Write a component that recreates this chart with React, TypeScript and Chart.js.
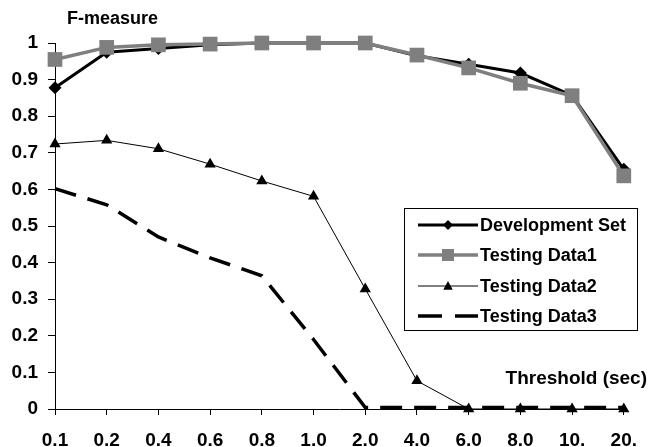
import { useEffect, useRef } from 'react';
import { Chart, registerables } from 'chart.js';

Chart.register(...registerables);

// Threshold values on the category axis
const thresholds = ['0.1', '0.2', '0.4', '0.6', '0.8', '1.0', '2.0', '4.0', '6.0', '8.0', '10.', '20.'];

// F-measure per threshold for each data set
const developmentSet = [0.878, 0.975, 0.985, 0.995, 1.0, 1.0, 1.0, 0.965, 0.942, 0.918, 0.857, 0.655];
const testingData1 = [0.955, 0.988, 0.995, 0.997, 1.0, 1.0, 1.0, 0.967, 0.932, 0.89, 0.856, 0.637];
const testingData2 = [0.724, 0.734, 0.711, 0.669, 0.623, 0.581, 0.328, 0.077, 0.0, 0.0, 0.0, 0.0];
const testingData3 = [0.602, 0.558, 0.47, 0.413, 0.364, 0.19, 0.004, 0.004, 0.004, 0.004, 0.004, 0.004];

const seriesNames = ['Development Set', 'Testing Data1', 'Testing Data2', 'Testing Data3'];

const FONT = '"Liberation Sans", Arial, Helvetica, sans-serif';
const GRAY = '#7f7f7f';

type LegendStyle = {
  color: string;
  width: number;
  dash: number[];
  marker: 'diamond' | 'square' | 'triangle' | 'none';
  markerSize: number;
};

const legendStyles: LegendStyle[] = [
  { color: '#000', width: 3, dash: [], marker: 'diamond', markerSize: 5 },
  { color: GRAY, width: 3.5, dash: [], marker: 'square', markerSize: 6 },
  { color: '#000', width: 1, dash: [], marker: 'triangle', markerSize: 5 },
  { color: '#000', width: 3.5, dash: [24, 13], marker: 'none', markerSize: 0 },
];

function drawMarker(ctx: CanvasRenderingContext2D, kind: string, x: number, y: number, r: number, color: string) {
  ctx.beginPath();
  ctx.fillStyle = color;
  if (kind === 'diamond') {
    ctx.moveTo(x, y - r);
    ctx.lineTo(x + r, y);
    ctx.lineTo(x, y + r);
    ctx.lineTo(x - r, y);
  } else if (kind === 'square') {
    ctx.rect(x - r, y - r, 2 * r, 2 * r);
  } else if (kind === 'triangle') {
    ctx.moveTo(x, y - r);
    ctx.lineTo(x + r * 0.95, y + r * 0.75);
    ctx.lineTo(x - r * 0.95, y + r * 0.75);
  } else {
    return;
  }
  ctx.closePath();
  ctx.fill();
}

const annotationPlugin = {
  id: 'annotations',
  afterDraw(chart: any) {
    const ctx: CanvasRenderingContext2D = chart.ctx;
    ctx.save();
    ctx.fillStyle = '#000';
    ctx.textBaseline = 'middle';
    ctx.textAlign = 'left';
    ctx.font = `bold 18px ${FONT}`;
    ctx.fillText('F-measure', 67, 19);
    ctx.textAlign = 'right';
    ctx.font = `bold 19px ${FONT}`;
    ctx.fillText('Threshold (sec)', 647, 379);

    // legend box
    const bx = 404.5, by = 208.5, bw = 233, bh = 122;
    ctx.fillStyle = '#fff';
    ctx.fillRect(bx, by, bw, bh);
    ctx.strokeStyle = '#000';
    ctx.lineWidth = 1;
    ctx.setLineDash([]);
    ctx.strokeRect(bx, by, bw, bh);

    const rowY = [225, 255, 286, 316];
    ctx.font = `bold 18px ${FONT}`;
    ctx.textAlign = 'left';
    seriesNames.forEach((name, i) => {
      const s = legendStyles[i];
      const y = rowY[i];
      ctx.beginPath();
      ctx.strokeStyle = s.color;
      ctx.lineWidth = s.width;
      ctx.setLineDash(s.dash);
      ctx.moveTo(418, y);
      ctx.lineTo(478, y);
      ctx.stroke();
      ctx.setLineDash([]);
      drawMarker(ctx, s.marker, 448, y, s.markerSize, s.color === GRAY ? GRAY : '#000');
      ctx.fillStyle = '#000';
      ctx.fillText(name, 480, y + 1);
    });
    ctx.restore();
  },
};

export default function App() {
  const canvasRef = useRef<HTMLCanvasElement | null>(null);

  useEffect(() => {
    document.body.style.margin = '0';
    const canvas = canvasRef.current;
    if (!canvas) return;

    const chart = new Chart(canvas, {
      type: 'line',
      data: {
        labels: thresholds,
        datasets: [
          {
            label: seriesNames[0],
            data: developmentSet,
            borderColor: '#000',
            backgroundColor: '#000',
            borderWidth: 3,
            pointStyle: 'rectRot',
            pointRadius: 6.5,
            pointBorderWidth: 0,
            order: 2,
            clip: false,
          },
          {
            label: seriesNames[1],
            data: testingData1,
            borderColor: GRAY,
            backgroundColor: GRAY,
            borderWidth: 3.5,
            pointStyle: 'rect',
            pointRadius: 10.4,
            pointBorderWidth: 0,
            order: 1,
            clip: false,
          },
          {
            label: seriesNames[2],
            data: testingData2,
            borderColor: '#000',
            backgroundColor: '#000',
            borderWidth: 1,
            pointStyle: 'triangle',
            pointRadius: 6.5,
            pointBorderWidth: 0,
            order: 3,
            clip: false,
          },
          {
            label: seriesNames[3],
            data: testingData3,
            borderColor: '#000',
            backgroundColor: '#000',
            borderWidth: 3.5,
            borderDash: [22, 12],
            pointRadius: 0,
            order: 4,
            clip: false,
          },
        ],
      },
      options: {
        responsive: false,
        animation: false,
        layout: { padding: { top: 43, right: 15, left: 0, bottom: 0 } },
        plugins: {
          legend: { display: false },
          tooltip: { enabled: false },
        },
        elements: { line: { tension: 0 } },
        scales: {
          x: {
            offset: false,
            afterFit: (scale: any) => {
              scale.height = 38;
            },
            grid: {
              display: true,
              drawOnChartArea: false,
              drawTicks: true,
              tickLength: 6,
              color: '#000',
            },
            border: { display: true, color: '#000', width: 1 },
            ticks: {
              color: '#000',
              font: { family: FONT, size: 19, weight: 'bold' },
              padding: 14,
              maxRotation: 0,
              autoSkip: false,
            },
          },
          y: {
            min: 0,
            max: 1,
            afterFit: (scale: any) => {
              scale.width = 55;
            },
            grid: {
              display: true,
              drawOnChartArea: false,
              drawTicks: true,
              tickLength: 7,
              color: '#000',
            },
            border: { display: true, color: '#000', width: 1 },
            ticks: {
              stepSize: 0.1,
              color: '#000',
              padding: 10,
              font: { family: FONT, size: 19, weight: 'bold' },
              callback: (v: any) => {
                const n = Number(v);
                if (Math.abs(n) < 1e-9) return '0';
                if (Math.abs(n - 1) < 1e-9) return '1';
                return n.toFixed(1);
              },
            },
          },
        },
      },
      plugins: [annotationPlugin],
    });

    return () => chart.destroy();
  }, []);

  return (
    <div style={{ width: 651, height: 447, position: 'relative' }}>
      <canvas ref={canvasRef} width={651} height={447} style={{ display: 'block' }} />
    </div>
  );
}
